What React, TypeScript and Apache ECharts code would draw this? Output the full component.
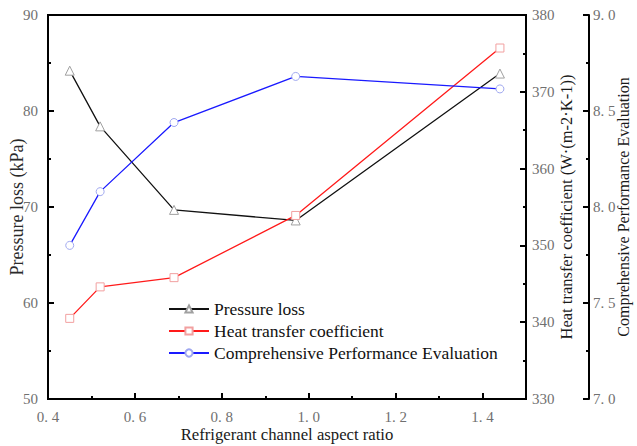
import React, { useEffect, useRef } from "react";
import * as echarts from "echarts";

const aspectRatio = [0.45, 0.52, 0.69, 0.97, 1.44];
const pressureLoss = [84.2, 78.4, 69.7, 68.6, 83.9];
const heatTransfer = [340.5, 344.6, 345.8, 353.9, 375.7];
const cpe = [7.8, 8.08, 8.44, 8.68, 8.615];

const FONT = "Liberation Serif";
const LABEL_COLOR = "#707070";
const TITLE_COLOR = "#1a1a1a";

const pairs = (ys: number[]) => aspectRatio.map((x, i) => [x, ys[i]]);

export default function App() {
  const ref = useRef<HTMLDivElement>(null);
  useEffect(() => {
    if (!ref.current) return;
    const chart = echarts.init(ref.current, undefined, { renderer: "svg" });
    const axisLine = { show: true, lineStyle: { color: "#000", width: 2 } };
    const axisTick = { show: true, inside: true, length: 6, lineStyle: { color: "#000", width: 2 } };
    const minorTick = { show: true, splitNumber: 2, length: 3, lineStyle: { color: "#000", width: 2 } };
    const labelStyle = { color: LABEL_COLOR, fontFamily: FONT, fontSize: 15 };
    const fmt1 = (v: number) => v.toFixed(1).replace(".", ". ");
    chart.setOption({
      animation: false,
      backgroundColor: "#fff",
      textStyle: { fontFamily: FONT },
      grid: {
        left: 48,
        right: 111,
        top: 15,
        bottom: 47,
        outerBoundsMode: "none",
        containLabel: false,
        show: true,
        borderColor: "#000",
        borderWidth: 2,
        backgroundColor: "transparent",
      },
      legend: {
        orient: "vertical",
        left: 163,
        top: 295,
        itemWidth: 40,
        itemHeight: 9,
        itemGap: 4,
        textStyle: { color: "#111", fontFamily: FONT, fontSize: 17.5 },
        data: ["Pressure loss", "Heat transfer coefficient", "Comprehensive Performance Evaluation"],
      },
      xAxis: {
        type: "value",
        min: 0.4,
        max: 1.5,
        interval: 0.2,
        name: "Refrigerant channel aspect ratio",
        nameLocation: "middle",
        nameGap: 27,
        nameMoveOverlap: false,
        nameTextStyle: { color: TITLE_COLOR, fontFamily: FONT, fontSize: 16.7 },
        axisLine,
        axisTick,
        minorTick,
        splitLine: { show: false },
        axisLabel: {
          ...labelStyle,
          margin: 10,
          showMaxLabel: false,
          formatter: (v: number) => (Math.abs(v - 1.5) < 1e-6 ? "" : fmt1(v)),
        },
      },
      yAxis: [
        {
          type: "value",
          min: 50,
          max: 90,
          interval: 10,
          position: "left",
          name: "Pressure loss (kPa)",
          nameLocation: "middle",
          nameGap: 22,
          nameRotate: 90,
          nameMoveOverlap: false,
          nameTextStyle: { color: "#2a2a2a", fontFamily: FONT, fontSize: 18 },
          axisLine,
          axisTick,
          minorTick,
          splitLine: { show: false },
          axisLabel: { ...labelStyle, margin: 10 },
        },
        {
          type: "value",
          min: 330,
          max: 380,
          interval: 10,
          position: "right",
          name: "Heat transfer coefficient (W·(m-2·K-1))",
          nameLocation: "middle",
          nameGap: 32,
          nameRotate: 90,
          nameMoveOverlap: false,
          nameTextStyle: { color: TITLE_COLOR, fontFamily: FONT, fontSize: 16.5 },
          axisLine,
          axisTick,
          minorTick,
          splitLine: { show: false },
          axisLabel: { ...labelStyle, margin: 6 },
        },
        {
          type: "value",
          min: 7.0,
          max: 9.0,
          interval: 0.5,
          position: "right",
          offset: 63,
          name: "Comprehensive Performance Evaluation",
          nameLocation: "middle",
          nameGap: 26,
          nameRotate: 90,
          nameMoveOverlap: false,
          nameTextStyle: { color: TITLE_COLOR, fontFamily: FONT, fontSize: 16 },
          axisLine,
          axisTick,
          minorTick,
          splitLine: { show: false },
          axisLabel: { ...labelStyle, margin: 4, formatter: fmt1 },
        },
      ],
      series: [
        {
          name: "Pressure loss",
          type: "line",
          yAxisIndex: 0,
          data: pairs(pressureLoss),
          symbol: "triangle",
          symbolSize: 9,
          lineStyle: { color: "#111", width: 1.3 },
          itemStyle: { color: "#fff", borderColor: "#a0a0a0", borderWidth: 1 },
        },
        {
          name: "Heat transfer coefficient",
          type: "line",
          yAxisIndex: 1,
          data: pairs(heatTransfer),
          symbol: "rect",
          symbolSize: 8,
          lineStyle: { color: "#ff1a1a", width: 1.3 },
          itemStyle: { color: "#fff", borderColor: "#f2a0a0", borderWidth: 1 },
        },
        {
          name: "Comprehensive Performance Evaluation",
          type: "line",
          yAxisIndex: 2,
          data: pairs(cpe),
          symbol: "circle",
          symbolSize: 8,
          lineStyle: { color: "#1a1aff", width: 1.3 },
          itemStyle: { color: "#fff", borderColor: "#a0a8f0", borderWidth: 1 },
        },
      ],
    });
    return () => chart.dispose();
  }, []);
  return <div ref={ref} style={{ width: 637, height: 446, position: "absolute", left: 0, top: 0 }} />;
}
